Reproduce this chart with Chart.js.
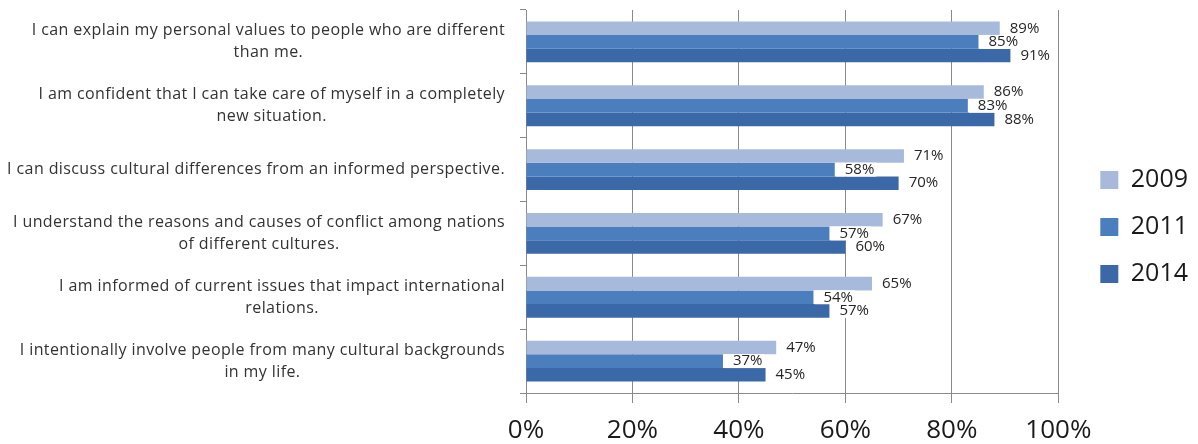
<!DOCTYPE html>
<html>
<head>
<meta charset="utf-8">
<script src="https://cdn.jsdelivr.net/npm/chart.js@4/dist/chart.umd.min.js"></script>
<style>
  body { margin: 0; background: #fff; }
  canvas { display: block; }
</style>
</head>
<body>
<canvas id="chart" width="1198" height="444"></canvas>
<script>
// categories, each split in the lines shown on the axis
const categories = [
    ['I can explain my personal values to people who are different', 'than me.'],
    ['I am confident that I can take care of myself in a completely', 'new situation.'],
    ['I can discuss cultural differences from an informed perspective.'],
    ['I understand the reasons and causes of conflict among nations', 'of different cultures.'],
    ['I am informed of current issues that impact international', 'relations.'],
    ['I intentionally involve people from many cultural backgrounds', 'in my life.']
]
const years = ['2009', '2011', '2014']
const values2009 = [89, 86, 71, 67, 65, 47]
const values2011 = [85, 83, 58, 57, 54, 37]
const values2014 = [91, 88, 70, 60, 57, 45]
const xTicks = [0, 20, 40, 60, 80, 100]

const colors = ['#a7badc', '#4a7ebd', '#3b69a8']
const gridColor = '#8a8a8a'
const labelFont = '"Open Sans", "Liberation Sans", sans-serif'

// category labels: block right aligned, lines centered in the block
const yLabels = {
    id: 'yLabels',
    afterDraw(chart) {
        const ctx = chart.ctx
        const scale = chart.scales.y
        ctx.save()
        ctx.font = '16px ' + labelFont
        ctx.letterSpacing = '0.4px'
        ctx.fillStyle = '#333333'
        ctx.textAlign = 'center'
        ctx.textBaseline = 'middle'
        categories.forEach((lines, i) => {
            const w = Math.max(...lines.map(l => ctx.measureText(l).width))
            const cx = scale.right - 21 - w / 2
            const cy = scale.getPixelForValue(i)
            lines.forEach((line, j) => {
                ctx.fillText(line, cx, cy + (j - (lines.length - 1) / 2) * 22)
            })
        })
        ctx.restore()
    }
}

// value labels after the end of every bar, on a white box
const valueLabels = {
    id: 'valueLabels',
    afterDatasetsDraw(chart) {
        const ctx = chart.ctx
        ctx.save()
        ctx.font = '15px ' + labelFont
        ctx.textBaseline = 'middle'
        chart.data.datasets.forEach((ds, di) => {
            chart.getDatasetMeta(di).data.forEach((bar, i) => {
                const txt = ds.data[i] + '%'
                const w = ctx.measureText(txt).width
                ctx.fillStyle = '#ffffff'
                ctx.fillRect(bar.x + 1, bar.y - 7, w + 11, 14)
                ctx.fillStyle = '#262626'
                ctx.fillText(txt, bar.x + 10, bar.y)
            })
        })
        ctx.restore()
    }
}

const series = [values2009, values2011, values2014]

let ctx = document.getElementById('chart').getContext('2d')
let myChart = new Chart(ctx, {
    type: 'bar',
    data: {
        labels: categories.map(c => c.join(' ')),
        datasets: years.map((y, i) => ({
            label: y,
            data: series[i],
            backgroundColor: colors[i],
            borderWidth: 0,
            categoryPercentage: 0.64,
            barPercentage: 1
        }))
    },
    options: {
        indexAxis: 'y',
        responsive: false,
        animation: false,
        layout: { padding: { top: 10, left: 0, right: 0, bottom: 0 } },
        plugins: {
            tooltip: { enabled: false },
            legend: {
                position: 'right',
                labels: {
                    boxWidth: 18,
                    boxHeight: 18,
                    padding: 22,
                    color: '#1a1a1a',
                    font: { family: labelFont, size: 25 }
                }
            }
        },
        scales: {
            x: {
                min: 0,
                max: 100,
                afterBuildTicks: s => { s.ticks = xTicks.map(v => ({ value: v })) },
                afterFit: s => { s.height = 51 },
                ticks: {
                    padding: 12,
                    color: '#1a1a1a',
                    font: { family: labelFont, size: 26 },
                    callback: v => v + '%'
                },
                grid: { color: gridColor, tickLength: 10 },
                border: { color: gridColor }
            },
            y: {
                afterFit: s => { s.width = 526 },
                ticks: { display: false },
                grid: { color: gridColor, drawOnChartArea: false, tickLength: 6 },
                border: { color: gridColor }
            },
            spacer: {
                type: 'linear',
                position: 'right',
                ticks: { display: false },
                grid: { display: false },
                border: { display: false },
                afterFit: s => { s.width = 20 }
            }
        }
    },
    plugins: [yLabels, valueLabels]
})
</script>
</body>
</html>
